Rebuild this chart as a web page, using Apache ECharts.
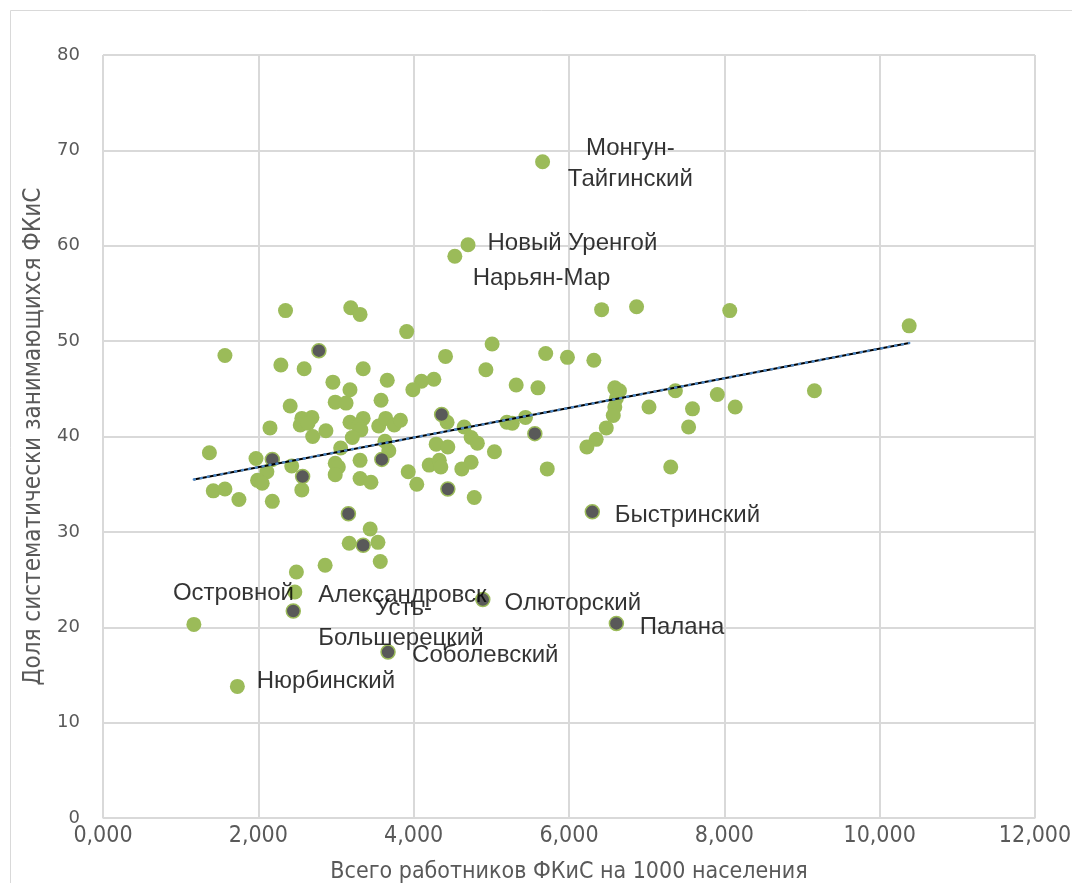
<!DOCTYPE html>
<html><head><meta charset="utf-8">
<script src="https://cdn.jsdelivr.net/npm/echarts@6/dist/echarts.min.js"></script>
<style>html,body{margin:0;padding:0;background:#fff}#c{width:1072px;height:883px}</style>
</head><body><div id="c"></div>
<script>
// Green points (x: workers per 1000, y: share %)
const greenX = [5.66,4.70,4.53,2.35,3.19,3.31,6.42,6.87,8.07,10.38,1.57,3.91,5.01,4.41,5.70,5.98,6.32,2.29,2.59,3.35,4.93,2.96,3.66,3.18,4.10,4.26,3.99,5.32,5.60,6.59,6.65,6.61,6.59,6.57,6.48,6.35,6.23,7.37,7.91,7.03,7.59,8.14,7.54,9.16,7.31,2.99,3.13,3.58,2.41,2.56,2.69,2.54,2.64,3.18,3.35,3.29,3.32,3.55,3.64,3.75,3.83,2.15,2.87,2.70,3.21,4.43,4.65,5.20,5.27,5.44,3.63,3.68,4.29,4.44,4.74,4.82,5.04,3.06,1.37,1.97,3.31,2.99,3.03,2.99,2.43,2.11,1.99,2.05,3.31,3.45,3.93,4.04,4.20,4.33,4.35,4.62,4.74,4.78,5.72,1.42,1.57,1.75,2.56,2.18,3.44,3.17,3.54,3.57,2.86,2.49,2.47,1.17,1.73];
const greenY = [68.8,60.1,58.9,53.2,53.5,52.8,53.3,53.6,53.2,51.6,48.5,51.0,49.7,48.4,48.7,48.3,48.0,47.5,47.1,47.1,47.0,45.7,45.9,44.9,45.8,46.0,44.9,45.4,45.1,45.1,44.8,44.0,43.1,42.2,40.9,39.7,38.9,44.8,44.4,43.1,42.9,43.1,41.0,44.8,36.8,43.6,43.5,43.8,43.2,41.9,42.0,41.2,41.4,41.5,41.9,41.1,40.7,41.1,41.9,41.2,41.7,40.9,40.6,40.0,39.9,41.5,41.0,41.5,41.4,42.0,39.5,38.5,39.2,38.9,39.9,39.3,38.4,38.8,38.3,37.7,37.5,37.2,36.8,36.0,36.9,36.3,35.4,35.1,35.6,35.2,36.3,35.0,37.0,37.5,36.8,36.6,37.3,33.6,36.6,34.3,34.5,33.4,34.4,33.2,30.3,28.8,28.9,26.9,26.5,25.8,23.7,20.3,13.8];
// Dark points
const darkX = [2.78,4.36,2.18,3.59,2.57,4.44,3.16,3.35,5.56,6.30,2.45,3.67,4.89,6.61];
const darkY = [49.0,42.3,37.6,37.6,35.8,34.5,31.9,28.6,40.3,32.1,21.7,17.4,22.9,20.4];
// Trend line endpoints
const trendX = [1.17, 10.38];
const trendY = [35.5, 49.8];
// Point labels
const labelText = ['Монгун-\nТайгинский','Новый Уренгой','Нарьян-Мар','Быстринский','Островной','Александровск','Усть-','Большерецкий','Соболевский','Олюторский','Палана','Нюрбинский'];
const labelX = [6.79,4.95,4.76,6.59,0.90,2.77,3.50,2.77,3.98,5.17,6.91,1.98];
const labelY = [68.6,60.2,56.6,31.75,23.55,23.35,21.95,18.85,17.05,22.55,19.95,14.35];
const labelAlign = ['center','left','left','left','left','left','left','left','left','left','left','left'];
const xTicks = [0,2,4,6,8,10,12];
const yTicks = [0,10,20,30,40,50,60,70,80];

const zip = (a,b)=>a.map((v,i)=>[v,b[i]]);
const chart = echarts.init(document.getElementById('c'), null, {renderer:'canvas'});
const gray = '#595959';
chart.setOption({
  animation:false,
  backgroundColor:'#fff',
  graphic:[{type:'rect',shape:{x:10.5,y:10.5,width:1070,height:890},style:{fill:'none',stroke:'#d9d9d9',lineWidth:1},silent:true}],
  grid:{left:103,right:37,top:55,bottom:65,containLabel:false,outerBoundsMode:'none'},
  xAxis:{type:'value',min:xTicks[0],max:xTicks[xTicks.length-1],interval:2,
    name:'Всего работников ФКиС на 1000 населения',nameLocation:'middle',nameGap:43,
    nameTextStyle:{color:gray,fontSize:23,fontFamily:'DejaVu Sans Condensed, Liberation Sans Narrow, sans-serif'},
    axisLine:{show:true,lineStyle:{color:'#d9d9d9',width:1}},axisTick:{show:false},
    axisLabel:{color:gray,fontSize:23,margin:7,fontFamily:'DejaVu Sans Condensed, sans-serif',formatter:v=>v.toFixed(3).replace('.',',')},
    splitLine:{show:true,lineStyle:{color:'#d9d9d9',width:2}}},
  yAxis:{type:'value',min:yTicks[0],max:yTicks[yTicks.length-1],interval:10,
    name:'Доля систематически занимающихся ФКиС',nameLocation:'middle',nameGap:57,
    nameTextStyle:{color:gray,fontSize:24,fontFamily:'DejaVu Sans Condensed, Liberation Sans Narrow, sans-serif'},
    axisLine:{show:true,lineStyle:{color:'#d9d9d9',width:1}},axisTick:{show:false},
    axisLabel:{color:gray,fontSize:18,margin:23,fontFamily:'DejaVu Sans, sans-serif'},
    splitLine:{show:true,lineStyle:{color:'#d9d9d9',width:2}}},
  series:[
    {type:'scatter',data:zip(greenX,greenY),symbolSize:15,itemStyle:{color:'#9bbb59',opacity:1},z:2},
    {type:'scatter',data:zip(darkX,darkY),symbolSize:14,itemStyle:{color:'#595959',borderColor:'#9bbb59',borderWidth:1.5,opacity:1},z:3},
    {type:'line',data:zip(trendX,trendY),symbol:'none',lineStyle:{color:'#000',width:2},z:4},
    {type:'line',data:zip(trendX,trendY),symbol:'none',lineStyle:{color:'#4a86c5',width:2.5,type:[1,6],cap:'round'},z:5},
    {type:'scatter',symbolSize:0,z:6,silent:true,
      data:labelText.map((t,i)=>({value:[labelX[i],labelY[i]],label:{align:labelAlign[i]},name:t})),
      label:{show:true,position:[0,0],verticalAlign:'middle',formatter:p=>p.name,color:'#000',fontSize:24,lineHeight:31,fontFamily:'Liberation Sans, Arial, sans-serif'}}
  ]
});
</script></body></html>
